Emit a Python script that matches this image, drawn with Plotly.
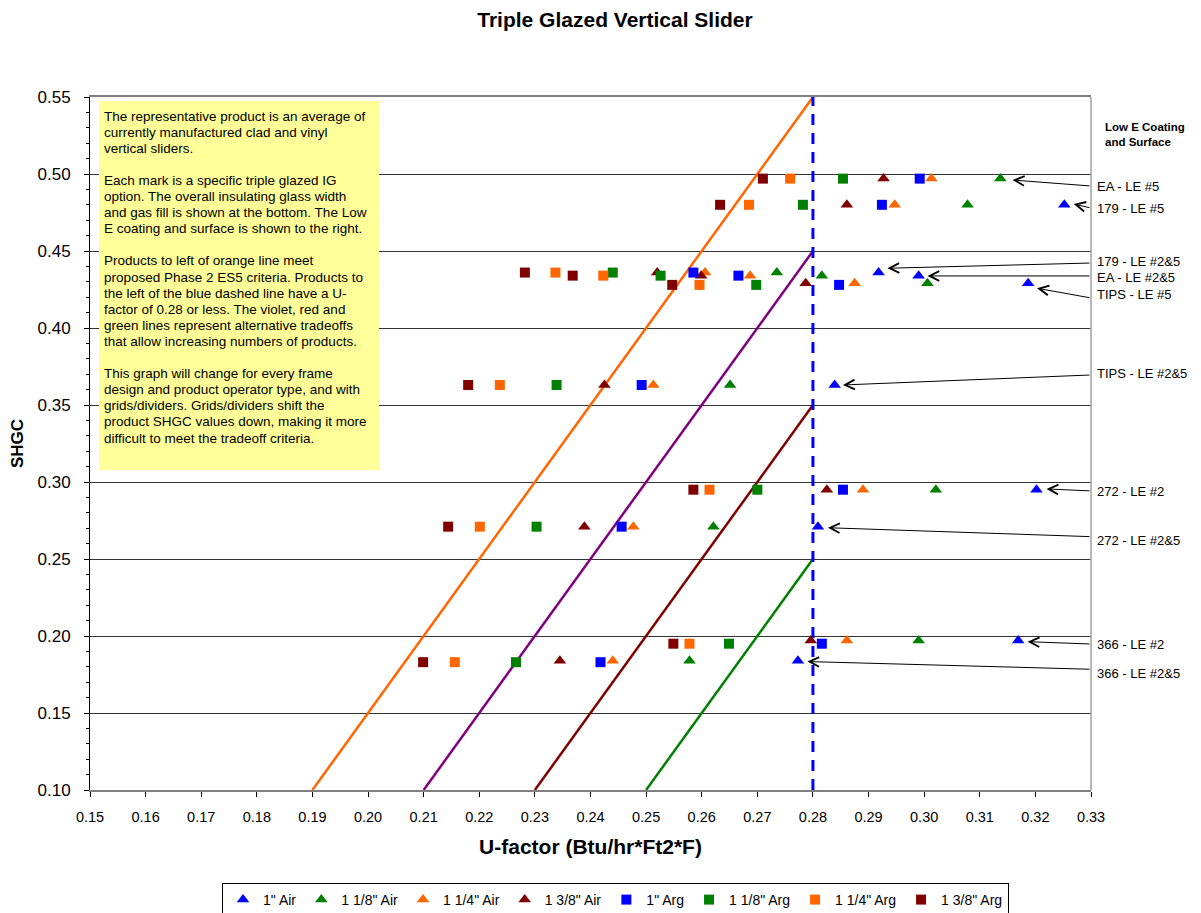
import plotly.graph_objects as go

# ---------------- data ----------------
glass_types = ["EA - LE #5", "179 - LE #5", "179 - LE #2&5", "EA - LE #2&5", "TIPS - LE #5",
               "TIPS - LE #2&5", "272 - LE #2", "272 - LE #2&5", "366 - LE #2", "366 - LE #2&5"]

shgc_air = [0.497, 0.480, 0.436, 0.434, 0.429, 0.363, 0.295, 0.271, 0.197, 0.184]
shgc_arg = [0.497, 0.480, 0.436, 0.434, 0.428, 0.363, 0.295, 0.271, 0.195, 0.183]

u_1_air = [None, 0.3252, 0.2918, 0.2990, 0.3187, 0.2839, 0.3202, 0.2809, 0.3169, 0.2773]
u_118_air = [0.3137, 0.3078, 0.2735, 0.2816, 0.3006, 0.2651, 0.3021, 0.2621, 0.2990, 0.2578]
u_114_air = [0.3013, 0.2947, 0.2606, 0.2687, 0.2875, 0.2513, 0.2890, 0.2477, 0.2861, 0.2440]
u_138_air = [0.2927, 0.2861, 0.2520, 0.2599, 0.2787, 0.2425, 0.2825, 0.2389, 0.2796, 0.2345]
u_1_arg = [0.2992, 0.2924, 0.2585, 0.2666, 0.2847, 0.2492, 0.2854, 0.2456, 0.2816, 0.2418]
u_118_arg = [0.2854, 0.2782, 0.2440, 0.2526, 0.2698, 0.2339, 0.2700, 0.2303, 0.2649, 0.2266]
u_114_arg = [0.2759, 0.2685, 0.2337, 0.2423, 0.2596, 0.2237, 0.2614, 0.2201, 0.2578, 0.2156]
u_138_arg = [0.2710, 0.2633, 0.2282, 0.2368, 0.2547, 0.2180, 0.2585, 0.2144, 0.2549, 0.2099]

series_names = ['1" Air', '1 1/8" Air', '1 1/4" Air', '1 3/8" Air',
                '1" Arg', '1 1/8" Arg', '1 1/4" Arg', '1 3/8" Arg']

# tradeoff lines (U-factor, SHGC end points)
orange_u, orange_shgc = [0.19, 0.28], [0.10, 0.55]
violet_u, violet_shgc = [0.21, 0.28], [0.10, 0.45]
red_u, red_shgc = [0.23, 0.28], [0.10, 0.35]
green_u, green_shgc = [0.25, 0.28], [0.10, 0.25]
blue_u, blue_shgc = [0.28, 0.28], [0.10, 0.55]

# arrow annotations: label, head (u, shgc), tail shgc, label shgc
arrow_labels = glass_types
arrow_head_u = [0.3159, 0.3269, 0.2934, 0.3006, 0.3203, 0.2854, 0.3220, 0.2827, 0.3186, 0.2790]
arrow_head_shgc = [0.4961, 0.4805, 0.4388, 0.4338, 0.4258, 0.3630, 0.2955, 0.2703, 0.1963, 0.1834]
arrow_tail_shgc = [0.4922, 0.4779, 0.4422, 0.4338, 0.4195, 0.3695, 0.2942, 0.2645, 0.1948, 0.1784]
label_shgc = [0.4916, 0.4779, 0.4431, 0.4327, 0.4219, 0.3706, 0.2937, 0.2619, 0.1944, 0.1758]

box_lines = [
    "The representative product is an average of",
    "currently manufactured clad and vinyl",
    "vertical sliders.",
    "",
    "Each mark is a specific triple glazed IG",
    "option. The overall insulating glass width",
    "and gas fill is shown at the bottom. The Low",
    "E coating and surface is shown to the right.",
    "",
    "Products to left of orange line meet",
    "proposed Phase 2 ES5 criteria. Products to",
    "the left of the blue dashed line have a U-",
    "factor of 0.28 or less. The violet, red and",
    "green lines represent alternative tradeoffs",
    "that allow increasing numbers of products.",
    "",
    "This graph will change for every frame",
    "design and product operator type, and with",
    "grids/dividers. Grids/dividers shift the",
    "product SHGC values down, making it more",
    "difficult to meet the tradeoff criteria.",
]

FONT = "Liberation Sans, Arial, sans-serif"
BLUE, GREEN, ORANGE, DRED, VIOLET = "#0000FF", "#008000", "#FF6600", "#800000", "#800080"

# page body has an 8px margin: figure is drawn 8px right/down of window origin
W, H = 1193, 905
PL, PT, PW, PH = 82, 89, 1001, 693

fig = go.Figure()

for u, s, c in [(orange_u, orange_shgc, ORANGE), (violet_u, violet_shgc, VIOLET),
                (red_u, red_shgc, DRED), (green_u, green_shgc, GREEN)]:
    fig.add_trace(go.Scatter(x=u, y=s, mode="lines", line=dict(color=c, width=2.5),
                             showlegend=False, hoverinfo="skip"))
fig.add_trace(go.Scatter(x=blue_u, y=blue_shgc, mode="lines",
                         line=dict(color=BLUE, width=3, dash="11px,8px"),
                         showlegend=False, hoverinfo="skip"))

series = [
    (u_1_air, shgc_air, BLUE, "triangle-up"),
    (u_118_air, shgc_air, GREEN, "triangle-up"),
    (u_114_air, shgc_air, ORANGE, "triangle-up"),
    (u_138_air, shgc_air, DRED, "triangle-up"),
    (u_1_arg, shgc_arg, BLUE, "square"),
    (u_118_arg, shgc_arg, GREEN, "square"),
    (u_114_arg, shgc_arg, ORANGE, "square"),
    (u_138_arg, shgc_arg, DRED, "square"),
]
for name, (u, s, c, sym) in zip(series_names, series):
    fig.add_trace(go.Scatter(x=u, y=s, mode="markers", name=name,
                             marker=dict(color=c, symbol=sym, size=10 if sym == "square" else 11,
                                         line=dict(width=0))))

annotations = []
# explanatory text, one annotation per line
for i, line in enumerate(box_lines):
    if not line:
        continue
    ypx = 19 + i * 16.1  # pixels below plot top
    annotations.append(dict(xref="paper", yref="paper", x=12 / PW, y=1 - ypx / PH,
                            xanchor="left", yanchor="middle", text=line, showarrow=False,
                            font=dict(family=FONT, size=13.5, color="black")))

annotations.append(dict(xref="paper", yref="paper", x=1.012, y=1 - 22 / PH, xanchor="left",
                        yanchor="top", text="<b>Low E Coating<br>and Surface</b>", showarrow=False,
                        align="left", font=dict(family=FONT, size=11.5, color="black")))

for lab, hu, hs, ts, ls in zip(arrow_labels, arrow_head_u, arrow_head_shgc, arrow_tail_shgc, label_shgc):
    annotations.append(dict(x=hu, y=hs, ax=0.33, ay=ts, xref="x", yref="y", axref="x", ayref="y",
                            text="", showarrow=True, arrowhead=5, arrowsize=1.9, arrowwidth=1,
                            arrowcolor="black", standoff=0))
    annotations.append(dict(xref="paper", yref="y", x=1.004, y=ls, xanchor="left", yanchor="middle",
                            text=lab, showarrow=False, font=dict(family=FONT, size=13, color="black")))

fig.update_layout(
    width=W, height=H,
    margin=dict(l=PL, r=W - PL - PW, t=PT, b=H - PT - PH, autoexpand=False),
    paper_bgcolor="white", plot_bgcolor="white",
    font=dict(family=FONT, color="black"),
    title=dict(text="<b>Triple Glazed Vertical Slider</b>", x=607 / W, xanchor="center",
               y=1 - 12 / H, yanchor="middle", font=dict(family=FONT, size=21, color="black")),
    xaxis=dict(range=[0.15, 0.33], dtick=0.01, tick0=0.15, tickformat=".2f", showgrid=False,
               zeroline=False, showline=True, linecolor="#808080", linewidth=2, mirror=True,
               ticks="outside", ticklen=5, tickcolor="black", tickfont=dict(size=14.5), tickangle=0,
               ticklabelstandoff=8,
               title=dict(text="<b>U-factor (Btu/hr*Ft2*F)</b>", font=dict(size=21), standoff=15)),
    yaxis=dict(range=[0.10, 0.55], dtick=0.05, tick0=0.10, tickformat=".2f", showgrid=True,
               gridcolor="#333333", gridwidth=1, zeroline=False, showline=True, linecolor="black",
               linewidth=1, ticks="outside", ticklen=5, tickcolor="black", tickfont=dict(size=17),
               ticklabelstandoff=10,
               minor=dict(dtick=0.01, ticks="outside", ticklen=3, tickcolor="black", showgrid=False),
               title=dict(text="<b>SHGC</b>", font=dict(size=17), standoff=14)),
    legend=dict(orientation="h", x=0.525, xanchor="center",
                y=-93 / PH, yanchor="top", bordercolor="black", borderwidth=1,
                font=dict(size=14), bgcolor="white"),
    annotations=annotations,
    shapes=[
        dict(type="rect", xref="paper", yref="paper", x0=9 / PW, x1=289 / PW,
             y0=1 - 373 / PH, y1=1 - 4 / PH, fillcolor="#FFFF99", line=dict(width=0), layer="above"),
        dict(type="line", xref="paper", yref="paper", x0=1, x1=1, y0=0, y1=1,
             line=dict(color="#A0A0A0", width=1.5)),
    ],
)

fig.write_html("out.html")
